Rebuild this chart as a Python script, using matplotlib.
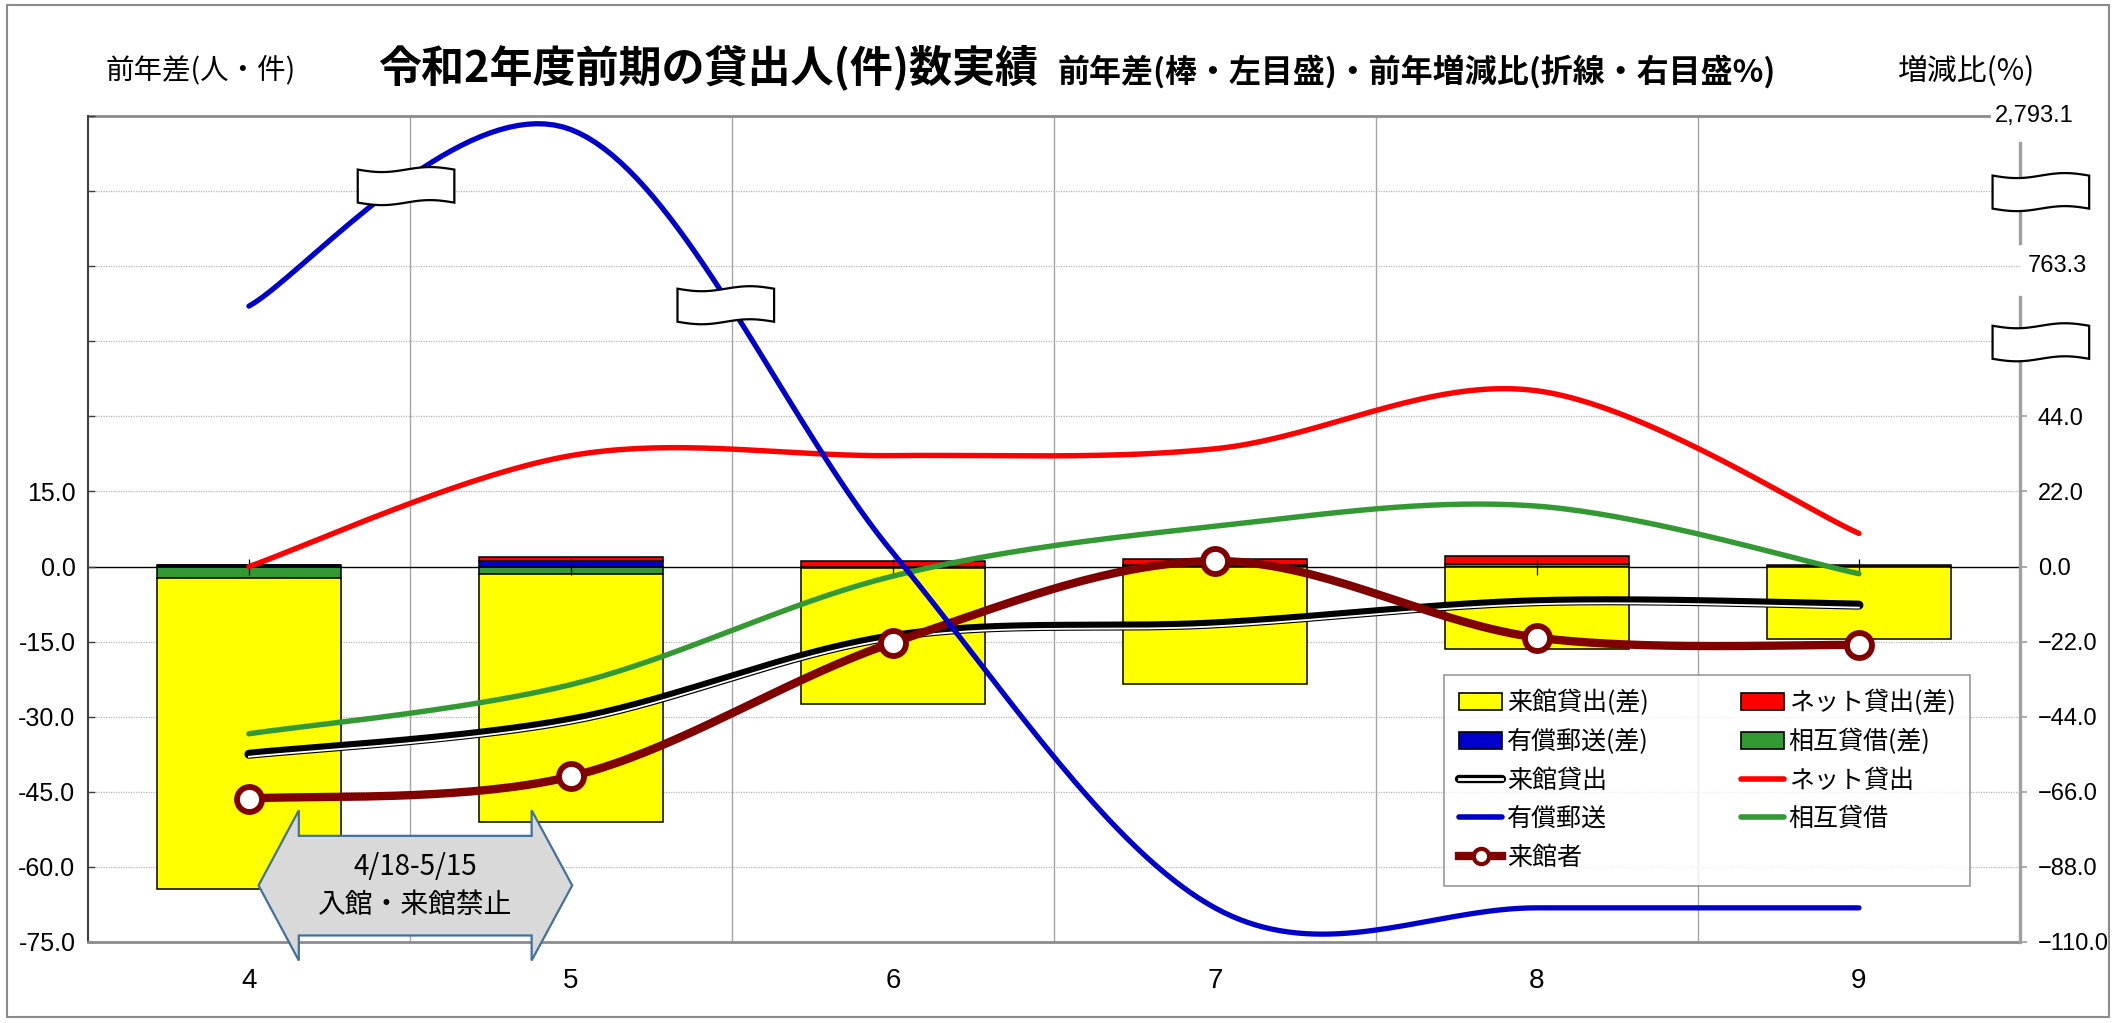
import numpy as np
import matplotlib.pyplot as plt
import matplotlib.transforms as mtransforms
from matplotlib.patches import Polygon, Rectangle, Patch
from matplotlib.lines import Line2D
from matplotlib.legend_handler import HandlerTuple

plt.rcParams['font.family'] = ['Noto Sans CJK JP', 'DejaVu Sans']
NUM_FONT = ['Liberation Sans Narrow', 'Liberation Sans', 'DejaVu Sans']
R_FONT = ['Liberation Sans', 'DejaVu Sans']

months = ['4', '5', '6', '7', '8', '9']

# 前年差 (left axis, bars)
visit_diff = [-62.3, -49.6, -27.2, -23.5, -16.4, -14.4]   # 来館貸出(差)
net_diff = [0.0, 0.7, 1.2, 1.3, 1.5, 0.3]                # ネット貸出(差)
mail_diff = [0.3, 1.2, 0.0, 0.0, 0.0, 0.0]               # 有償郵送(差)
ill_diff = [-2.2, -1.5, -0.2, 0.3, 0.6, 0.0]             # 相互貸借(差)

# 前年増減比 % (right axis, lines)
visit_pct = [-55.0, -45.0, -20.5, -16.8, -10.3, -11.3]   # 来館貸出
net_pct = [0.0, 32.5, 32.5, 34.5, 51.5, 9.7]             # ネット貸出
mail_pct = [572.0, 2610.0, 4.0, -100.0, -100.0, -100.0]  # 有償郵送 (broken scale)
ill_pct = [-49.0, -34.6, -2.8, 11.8, 17.7, -2.1]         # 相互貸借
visitors_pct = [-68.0, -61.5, -22.3, 1.6, -20.8, -23.0]  # 来館者

left_ticks = [-75, -60, -45, -30, -15, 0, 15, 30, 45, 60, 75, 90]
right_ticks = [-110, -88, -66, -44, -22, 0, 22, 44]

# broken scale for 有償郵送: 44 .. 763.3 .. 2793.1 squeezed into two gridline steps each
B1, B2, TOP = 44.0, 763.3, 2793.1


def fwd(v):
    v = np.asarray(v, dtype=float)
    return np.where(v <= B1, v,
                    np.where(v <= B2, 44 + (v - B1) * 44 / (B2 - B1),
                             88 + (v - B2) * 44 / (TOP - B2)))


def inv(u):
    u = np.asarray(u, dtype=float)
    return np.where(u <= 44, u,
                    np.where(u <= 88, B1 + (u - 44) * (B2 - B1) / 44,
                             B2 + (u - 88) * (TOP - B2) / 44))


def smooth(ys, steps=40):
    # excel style smoothed line (bezier through the points)
    ys = np.asarray(ys, dtype=float)
    xs = np.arange(len(ys), dtype=float)
    px = np.r_[xs[0], xs, xs[-1]]
    py = np.r_[ys[0], ys, ys[-1]]
    t = np.linspace(0, 1, steps)[:, None]
    out = []
    for i in range(len(ys) - 1):
        p0 = np.array([xs[i], ys[i]])
        p3 = np.array([xs[i + 1], ys[i + 1]])
        c1 = p0 + (np.array([px[i + 2], py[i + 2]]) - np.array([px[i], py[i]])) / 6
        c2 = p3 - (np.array([px[i + 3], py[i + 3]]) - np.array([px[i + 1], py[i + 1]])) / 6
        seg = (1 - t) ** 3 * p0 + 3 * (1 - t) ** 2 * t * c1 + 3 * (1 - t) * t ** 2 * c2 + t ** 3 * p3
        out.append(seg if i == 0 else seg[1:])
    out = np.vstack(out)
    return out[:, 0], out[:, 1]


fig = plt.figure(figsize=(21.18, 10.23), dpi=100)
ax = fig.add_axes([0.0415, 0.0792, 0.9122, 0.8074])
ax2 = ax.twinx()   # linear % axis
ax3 = ax.twinx()   # broken % axis for 有償郵送

x = np.arange(len(months))
ax.set_xlim(-0.5, 5.5)
ax.set_ylim(-75, 90)
ax2.set_ylim(-110, 132)
ax3.set_yscale('function', functions=(fwd, inv))
ax3.set_ylim(-110, TOP)
ax3.set_yticks([])

# grid
for g in left_ticks[1:-1]:
    if g != 0:
        ax.axhline(g, color='#b8b8b8', lw=0.9, ls=(0, (1, 1)), zorder=0.5)
for b in np.arange(0.5, 5.0, 1.0):
    ax.axvline(b, color='#a6a6a6', lw=1.0, zorder=0.6)
ax.axhline(0, color='black', lw=1.0, zorder=1.5)

# stacked bars
bar_series = [
    (ill_diff, '#339933'),
    (mail_diff, '#0000cc'),
    (net_diff, '#ff0000'),
    (visit_diff, '#ffff00'),
]
pos = np.zeros(len(x))
neg = np.zeros(len(x))
for vals, col in bar_series:
    v = np.array(vals)
    bottom = np.where(v >= 0, pos, neg)
    ax.bar(x, v, 0.57, bottom=bottom, color=col, edgecolor='black', lw=1.1, zorder=2)
    pos += np.clip(v, 0, None)
    neg += np.clip(v, None, 0)
ax.plot(x, np.zeros(len(x)), ls='none', marker='|', ms=12, mew=0.9, color='black', zorder=2.5)

# lines
sx, sy = smooth(visit_pct)
ax2.plot(sx, sy, color='black', lw=6.5, solid_capstyle='round', zorder=3)
off = mtransforms.offset_copy(ax2.transData, fig=fig, x=0, y=-1.8, units='points')
ax2.plot(sx, sy, color='white', lw=1.3, transform=off, zorder=3.1)

sx, sy = smooth(net_pct)
ax2.plot(sx, sy, color='#ff0000', lw=3.9, solid_capstyle='round', zorder=3.2)
sx, sy = smooth(ill_pct)
ax2.plot(sx, sy, color='#339933', lw=3.9, solid_capstyle='round', zorder=3.4)
sx, sy = smooth(visitors_pct)
ax2.plot(sx, sy, color='#800000', lw=6, solid_capstyle='round', zorder=3.5)
ax2.plot(x, visitors_pct, ls='none', marker='o', ms=18, mfc='white', mec='#800000', mew=4.2, zorder=3.6)

sx, sy = smooth(fwd(mail_pct))
ax3.plot(sx, inv(sy), color='#0000cc', lw=3.8, solid_capstyle='round', zorder=3.3)


# wavy break marks
def break_mark(xc, yc, w=0.30, h=6.6, amp=0.5):
    t = np.linspace(0, 1, 60)
    wave = -amp * np.sin(2 * np.pi * t)
    top = np.c_[xc - w / 2 + w * t, yc + h / 2 + wave]
    bot = np.c_[xc + w / 2 - w * t, yc - h / 2 + wave[::-1]]
    poly = Polygon(np.vstack([top, bot]), closed=True, facecolor='white', edgecolor='black',
                   lw=1.6, transform=ax.transData, clip_on=False, zorder=8)
    ax3.add_patch(poly)


# spines
for a in (ax, ax2, ax3):
    for s in a.spines.values():
        s.set_visible(False)
ax.spines['left'].set_visible(True)
ax.spines['left'].set_color('#404040')
ax.spines['left'].set_linewidth(1.5)
ax.spines['bottom'].set_visible(True)
ax.spines['bottom'].set_color('#8c8c8c')
ax.spines['bottom'].set_linewidth(2)
ax.plot([-0.5, 5.404], [90, 90], color='#8c8c8c', lw=2, clip_on=False, zorder=1)
rtrans = mtransforms.blended_transform_factory(ax3.transAxes, ax.transData)
ax3.plot([1, 1], [-75, 53.8], color='#a0a0a0', lw=2.4, transform=rtrans, clip_on=False, zorder=7)
ax3.plot([1, 1], [64.6, 84.6], color='#a0a0a0', lw=2.4, transform=rtrans, clip_on=False, zorder=7)

break_mark(5.565, 74.8)
break_mark(5.565, 44.8)
break_mark(0.488, 76.0)
break_mark(1.481, 52.2)

# ticks
ax.set_xticks(x)
ax.set_xticklabels(months, fontsize=20, family=NUM_FONT)
ax.tick_params(axis='x', length=0, pad=19)
ax.set_yticks(left_ticks)
ax.set_yticklabels(['%.1f' % v if v <= 15 else '' for v in left_ticks], fontsize=18, family=NUM_FONT)
ax.tick_params(axis='y', direction='in', length=5, width=1, color='#404040', pad=9)

ax2.set_yticks(right_ticks)
ax2.set_yticklabels(['%.1f' % v if v >= 0 else '\u2212%.1f' % -v for v in right_ticks],
                    fontsize=17, family=R_FONT)
ax2.tick_params(axis='y', direction='out', length=5, width=1.2, color='#a0a0a0', pad=8)
btrans = mtransforms.blended_transform_factory(ax3.transAxes, ax3.transData)
ax3.text(1.004, B2, '763.3', transform=btrans, fontsize=17, family=R_FONT, va='center', ha='left')
ax3.text(0.987, TOP, '2,793.1', transform=btrans, fontsize=17, family=R_FONT, va='center', ha='left')

# closure arrow
arrow = Polygon([(0.03, -63.7), (0.155, -48.7), (0.155, -53.8), (0.878, -53.8), (0.878, -48.7),
                 (1.004, -63.7), (0.878, -78.7), (0.878, -73.7), (0.155, -73.7), (0.155, -78.7)],
                closed=True, facecolor='#d9d9d9', edgecolor='#41719c', lw=1.6,
                transform=ax.transData, clip_on=False, zorder=9)
ax3.add_patch(arrow)
ax3.text(0.517, -60.0, '4/18-5/15', transform=ax.transData, ha='center', va='center',
         fontsize=20, zorder=10)
ax3.text(0.517, -67.6, '入館・来館禁止', transform=ax.transData, ha='center', va='center',
         fontsize=20, zorder=10)

# titles
fig.text(0.0496, 0.9316, '前年差(人・件)', fontsize=20.5, va='center', ha='left')
fig.text(0.1785, 0.934, '令和2年度前期の貸出人(件)数実績', fontsize=31, weight='bold', va='center', ha='left')
fig.text(0.4995, 0.930, '前年差(棒・左目盛)・前年増減比(折線・右目盛%)', fontsize=23, weight='bold',
         va='center', ha='left')
fig.text(0.896, 0.930, '増減比(%)', fontsize=21.5, va='center', ha='left')

# legend
h_visit = Patch(facecolor='#ffff00', edgecolor='black', lw=1.2)
h_net = Patch(facecolor='#ff0000', edgecolor='black', lw=1.2)
h_mail = Patch(facecolor='#0000cc', edgecolor='black', lw=1.2)
h_ill = Patch(facecolor='#339933', edgecolor='black', lw=1.2)
l_visit = (Line2D([], [], color='black', lw=6, solid_capstyle='round'),
           Line2D([], [], color='white', lw=2))
l_net = Line2D([], [], color='#ff0000', lw=4, solid_capstyle='round')
l_mail = Line2D([], [], color='#0000cc', lw=4, solid_capstyle='round')
l_ill = Line2D([], [], color='#339933', lw=4, solid_capstyle='round')
l_visitors = Line2D([], [], color='#800000', lw=6, marker='o', ms=11, mfc='white', mec='#800000', mew=3)
handles = [h_visit, h_mail, l_visit, l_mail, l_visitors, h_net, h_ill, l_net, l_ill]
labels = ['来館貸出(差)', '有償郵送(差)', '来館貸出', '有償郵送', '来館者',
          'ネット貸出(差)', '相互貸借(差)', 'ネット貸出', '相互貸借']
leg = ax3.legend(handles, labels, ncol=2, loc='upper left', bbox_to_anchor=(0.682, 0.340),
                 bbox_transform=fig.transFigure, fontsize=18, frameon=True, fancybox=False,
                 edgecolor='#808080', handlelength=1.7, handletextpad=0.2, columnspacing=3.7,
                 labelspacing=0.5, borderpad=0.6, borderaxespad=0, numpoints=1,
                 handler_map={tuple: HandlerTuple(ndivide=1, pad=0)})
leg.get_frame().set_linewidth(1.2)
leg.set_zorder(20)

fig.patches.append(Rectangle((0.0033, 0.0059), 0.9924, 0.989, transform=fig.transFigure,
                             fill=False, edgecolor='#8c8c8c', lw=1.5))

fig.savefig('out.png', dpi=100)
